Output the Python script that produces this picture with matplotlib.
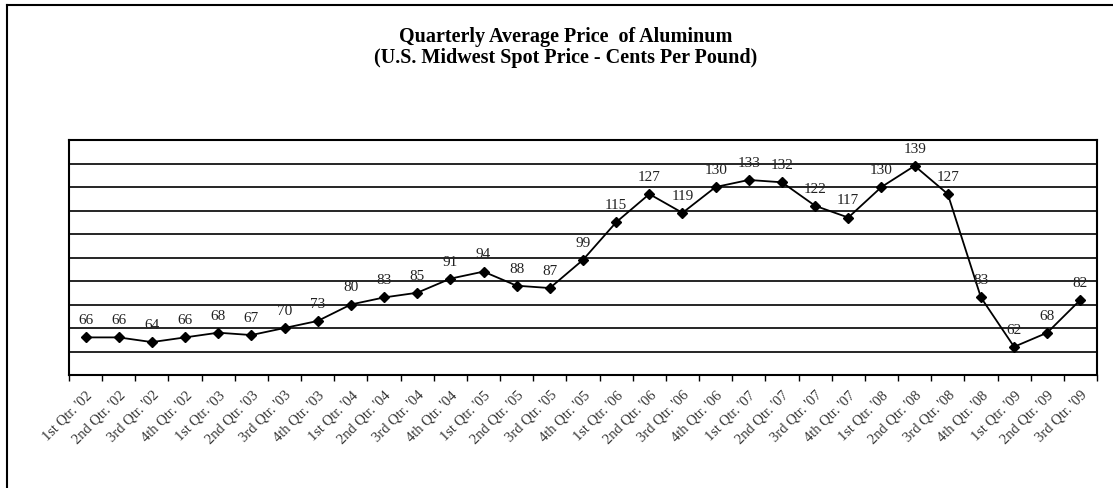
import matplotlib
matplotlib.use("Agg")
import matplotlib.pyplot as plt
from matplotlib.lines import Line2D

plt.rcParams["font.family"] = ["Liberation Serif", "DejaVu Serif"]

quarters = [
    "1st Qtr. '02", "2nd Qtr. '02", "3rd Qtr. '02", "4th Qtr. '02",
    "1st Qtr. '03", "2nd Qtr. '03", "3rd Qtr. '03", "4th Qtr. '03",
    "1st Qtr. '04", "2nd Qtr. '04", "3rd Qtr. '04", "4th Qtr. '04",
    "1st Qtr. '05", "2nd Qtr. '05", "3rd Qtr. '05", "4th Qtr. '05",
    "1st Qtr. '06", "2nd Qtr. '06", "3rd Qtr. '06", "4th Qtr. '06",
    "1st Qtr. '07", "2nd Qtr. '07", "3rd Qtr. '07", "4th Qtr. '07",
    "1st Qtr. '08", "2nd Qtr. '08", "3rd Qtr. '08", "4th Qtr. '08",
    "1st Qtr. '09", "2nd Qtr. '09", "3rd Qtr. '09",
]
price_cents = [66, 66, 64, 66, 68, 67, 70, 73, 80, 83, 85, 91, 94, 88, 87, 99,
               115, 127, 119, 130, 133, 132, 122, 117, 130, 139, 127, 83, 62, 68, 82]
y_min, y_max, y_step = 50, 150, 10

fig = plt.figure(figsize=(11.13, 4.89), dpi=100)
ax = fig.add_axes([69 / 1113, 1 - 376 / 489, (1097 - 69) / 1113, (376 - 141) / 489])

x = list(range(len(quarters)))
ax.plot(x, price_cents, color="black", lw=1.3, marker="D", markersize=5.5, zorder=3)
for xi, v in zip(x, price_cents):
    ax.annotate(str(v), (xi, v), xytext=(0, 8), textcoords="offset points",
                ha="center", va="bottom", fontsize=11, color="#222222")

ax.set_xlim(-0.5, len(quarters) - 0.5)
ax.set_ylim(y_min, y_max)
ax.set_yticks(range(y_min, y_max + 1, y_step))
ax.yaxis.grid(True, color="black", lw=1.2)
ax.set_axisbelow(True)
ax.tick_params(axis="y", left=False, labelleft=False)

ax.set_xticks(x)
ax.set_xticklabels(quarters, rotation=45, ha="right", rotation_mode="anchor",
                   fontsize=10.5, color="#333333")
ax.tick_params(axis="x", which="major", length=0, pad=9)
ax.set_xticks([i - 0.5 for i in range(len(quarters) + 1)], minor=True)
ax.tick_params(axis="x", which="minor", length=4, width=1, direction="out")

for s in ax.spines.values():
    s.set_linewidth(1.5)

fig.text(566 / 1113, 1 - 37 / 489, "Quarterly Average Price  of Aluminum",
         ha="center", va="center", fontsize=14.5, fontweight="bold")
fig.text(566 / 1113, 1 - 58 / 489, "(U.S. Midwest Spot Price - Cents Per Pound)",
         ha="center", va="center", fontsize=14.5, fontweight="bold")

# outer chart border (left and top edges visible)
fig.add_artist(Line2D([7 / 1113, 7 / 1113], [0, 1 - 6 / 489], transform=fig.transFigure,
                      color="black", lw=1.5))
fig.add_artist(Line2D([7 / 1113, 1], [1 - 6 / 489, 1 - 6 / 489], transform=fig.transFigure,
                      color="black", lw=1.5))

fig.savefig("out.png", dpi=100)
